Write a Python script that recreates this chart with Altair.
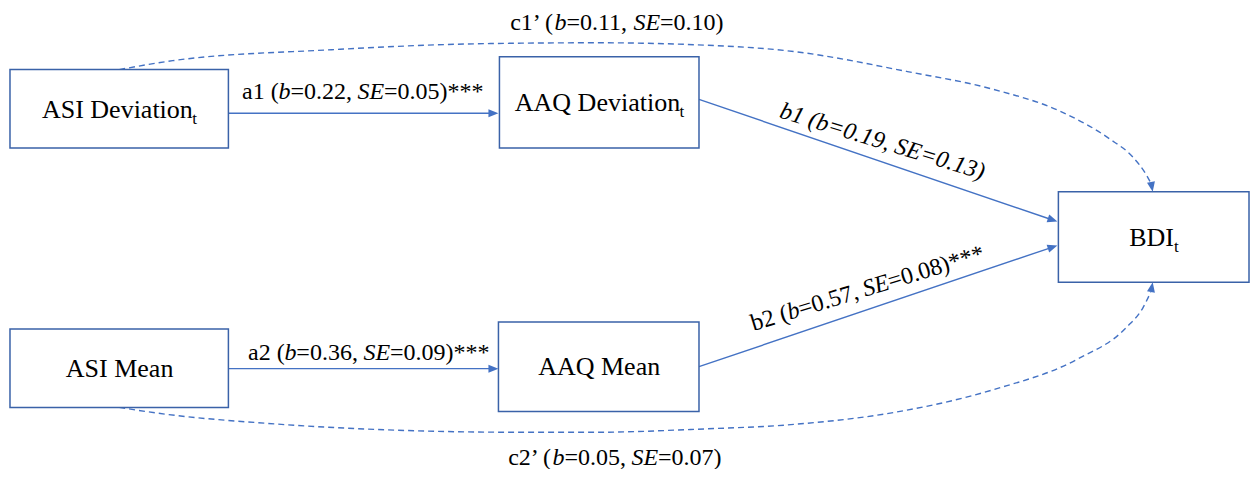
import math
import altair as alt
import pandas as pd

FONT = "'Liberation Serif', 'Times New Roman', Times, serif"
LINE = "#4472C4"
BOX = "#3A62A8"

# ---------------- data ----------------
node_names = ["ASI Deviation", "AAQ Deviation", "BDI", "ASI Mean", "AAQ Mean"]
node_sub = ["t", "t", "t", "", ""]
node_x0 = [9, 502, 1065, 9, 501]
node_x1 = [229, 703, 1257, 229, 703]
node_y0 = [70, 57, 193, 331, 324]
node_y1 = [149, 149, 284, 410, 414]

# straight paths (start -> arrow tip)
path_names = ["a1", "a2", "b1", "b2"]
path_x0 = [229, 229, 703, 703]
path_y0 = [114, 371, 100, 369]
path_x1 = [501, 501, 1064, 1064]
path_y1 = [114, 371, 223, 247]

# dashed direct-effect curves
c1_x = [119, 173, 333, 480, 600, 700, 800, 913, 1000, 1067, 1117, 1140, 1153, 1158]
c1_y = [70, 61, 50, 44, 43, 45, 52, 72, 90, 112, 140, 158, 175, 184]
c2_x = [119, 167, 267, 400, 520, 600, 700, 800, 900, 1000, 1083, 1133, 1150, 1158]
c2_y = [410, 417, 426, 433, 435, 435, 432, 427, 415, 392, 362, 330, 310, 294]
curve_tip_x = [1160, 1160]
curve_tip_y = [193, 284]
curve_tip_angle = [80, 280]

# edge labels: segments (text, style), anchor mode, x, y (baseline), angle
R, I = "r", "i"
lab_segments = [
    [("c1\u2019 (", R), ("b", I), ("=0.11, ", R), ("SE", I), ("=0.10)", R)],
    [("a1 (", R), ("b", I), ("=0.22, ", R), ("SE", I), ("=0.05)***", R)],
    [("b1 (b=0.19, SE=0.13)", I)],
    [("a2 (", R), ("b", I), ("=0.36, ", R), ("SE", I), ("=0.09)***", R)],
    [("b2 (", R), ("b", I), ("=0.57, ", R), ("SE", I), ("=0.08)***", R)],
    [("c2\u2019 (", R), ("b", I), ("=0.05, ", R), ("SE", I), ("=0.07)", R)],
]
lab_mode = ["center", "center", "start", "center", "start", "center"]
lab_x = [620, 364, 783, 370, 758, 618]
lab_y = [30, 100, 118, 362, 333, 468]
lab_angle = [0, 0, 17, 0, -17, 0]

EDGE_FS = 24
NODE_FS = 26
SUB_FS = 17

# ---------------- text metrics (Times / Liberation Serif, per 1000 em) ----------------
ROMAN = {' ': 250, '(': 333, ')': 333, '*': 500, ',': 250, '.': 250, '=': 564,
         '\u2019': 333, 'a': 444, 'b': 500, 'c': 444, 'e': 444, 'i': 278,
         'n': 500, 'o': 500, 't': 278, 'v': 500, 'A': 722, 'B': 667, 'D': 722,
         'E': 611, 'I': 333, 'M': 889, 'Q': 722, 'S': 556}
ITALIC = {' ': 250, '(': 333, ')': 333, ',': 250, '.': 250, '=': 675,
          'b': 500, 'S': 500, 'E': 611, '*': 500}


def width(s, style, fs):
    table = ITALIC if style == I else ROMAN
    return sum(table.get(ch, 500) for ch in s) * fs / 1000.0


text_rows = []
for segs, mode, x, y, ang in zip(lab_segments, lab_mode, lab_x, lab_y, lab_angle):
    total = sum(width(t, st, EDGE_FS) for t, st in segs)
    a = math.radians(ang)
    if mode == "center":
        x0 = x - total / 2 * math.cos(a)
        y0 = y - total / 2 * math.sin(a)
    else:
        x0, y0 = x, y
    s = 0.0
    for t, st in segs:
        text_rows.append(dict(x=x0 + s * math.cos(a), y=y0 + s * math.sin(a),
                              text=t.rstrip(), style=st, size=EDGE_FS,
                              angle=ang % 360))
        s += width(t, st, EDGE_FS)

for name, sub, x0, x1, y0, y1 in zip(node_names, node_sub, node_x0, node_x1, node_y0, node_y1):
    wm = width(name, R, NODE_FS)
    ws = width(sub, R, SUB_FS) if sub else 0
    cx = (x0 + x1) / 2
    cy = (y0 + y1) / 2
    sx = cx - (wm + ws) / 2
    base = cy + 0.34 * NODE_FS
    text_rows.append(dict(x=sx, y=base, text=name, style=R, size=NODE_FS, angle=0))
    if sub:
        text_rows.append(dict(x=sx + wm + 0.5, y=base + 6, text=sub, style=R,
                              size=SUB_FS, angle=0))

texts = pd.DataFrame(text_rows)

nodes = pd.DataFrame(dict(name=node_names, x=node_x0, x2=node_x1, y=node_y0, y2=node_y1))

line_rows = []
head_rows = []
for n, xa, ya, xb, yb in zip(path_names, path_x0, path_y0, path_x1, path_y1):
    ang = math.atan2(yb - ya, xb - xa)
    line_rows.append(dict(path=n, x=xa, y=ya, o=0))
    line_rows.append(dict(path=n, x=xb - 5 * math.cos(ang), y=yb - 5 * math.sin(ang), o=1))
    head_rows.append(dict(x=xb, y=yb, angle=math.degrees(ang) % 360))
lines = pd.DataFrame(line_rows)

curve_rows = []
for n, xs, ys in (("c1", c1_x, c1_y), ("c2", c2_x, c2_y)):
    for i, (x, y) in enumerate(zip(xs, ys)):
        curve_rows.append(dict(path=n, x=x, y=y, o=i))
curves = pd.DataFrame(curve_rows)
for x, y, a in zip(curve_tip_x, curve_tip_y, curve_tip_angle):
    head_rows.append(dict(x=x, y=y, angle=a))
heads = pd.DataFrame(head_rows)

# ---------------- chart ----------------
W, H = 1242, 461
xs = alt.Scale(domain=[7, 1258], range=[0, W], nice=False, zero=False)
ys = alt.Scale(domain=[8, 472], range=[0, H], nice=False, zero=False)
X = alt.X("x:Q", scale=xs, axis=None)
Y = alt.Y("y:Q", scale=ys, axis=None)

straight = alt.Chart(lines).mark_line(color=LINE, strokeWidth=1.4).encode(
    x=X, y=Y, detail="path:N", order="o:Q")

dashed = alt.Chart(curves).mark_line(
    color=LINE, strokeWidth=1.4, strokeDash=[6, 4], interpolate="monotone"
).encode(x=X, y=Y, detail="path:N", order="o:Q")

boxes = alt.Chart(nodes).mark_rect(fill="white", stroke=BOX, strokeWidth=1.5).encode(
    x=X, x2="x2:Q", y=Y, y2="y2:Q")

arrow = alt.Chart(heads).mark_point(
    shape="M0,0 L-2,-0.8 L-2,0.8 Z", filled=True, size=100, color=LINE,
    opacity=1, strokeWidth=0
).encode(x=X, y=Y, angle=alt.Angle("angle:Q", scale=None))

roman = alt.Chart(texts).transform_filter(alt.datum.style == "r").mark_text(
    align="left", baseline="alphabetic", font=FONT, color="black"
).encode(x=X, y=Y, text="text:N", size=alt.Size("size:Q", scale=None),
         angle=alt.Angle("angle:Q", scale=None))

italic = alt.Chart(texts).transform_filter(alt.datum.style == "i").mark_text(
    align="left", baseline="alphabetic", font=FONT, color="black", fontStyle="italic"
).encode(x=X, y=Y, text="text:N", size=alt.Size("size:Q", scale=None),
         angle=alt.Angle("angle:Q", scale=None))

chart = alt.layer(dashed, straight, boxes, arrow, roman, italic).properties(
    width=W, height=H, autosize=alt.AutoSizeParams(type="none"),
    padding={"left": 0, "right": 0, "top": 0, "bottom": 0},
    background="white",
).configure_view(stroke=None, strokeWidth=0)

chart.save("out.html", embed_options={"renderer": "svg", "actions": False})
